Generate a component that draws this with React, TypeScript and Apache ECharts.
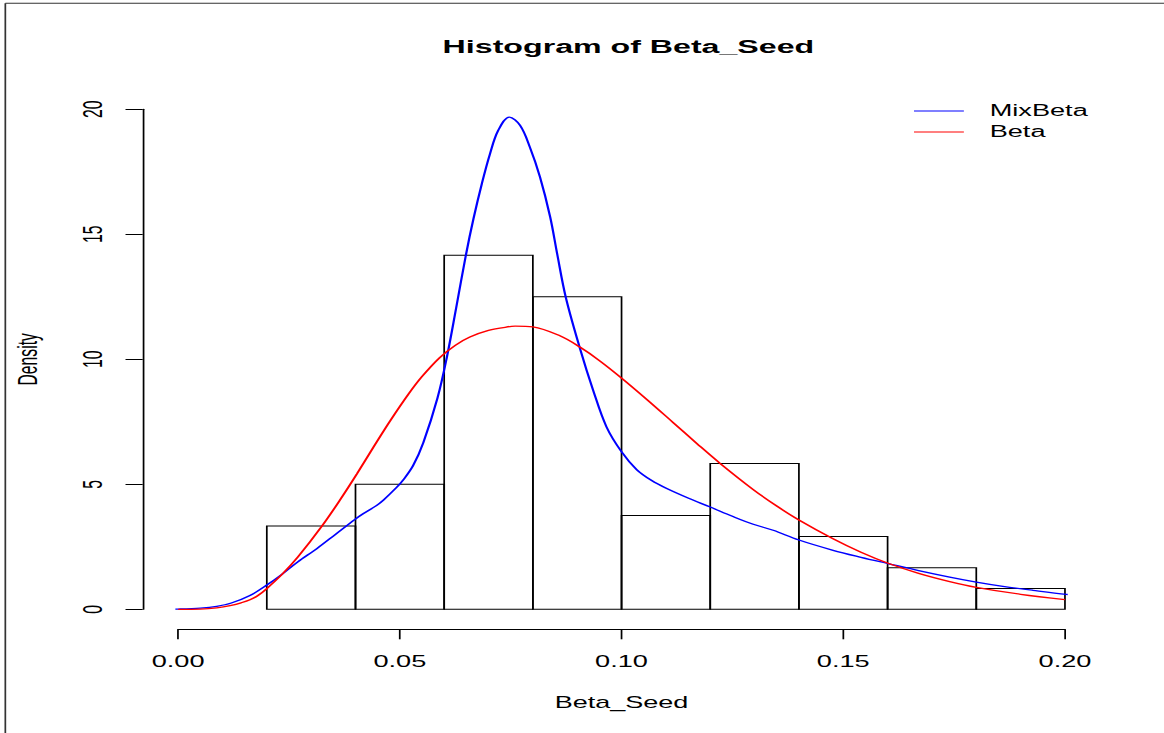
import React, { useEffect, useRef } from "react";
import * as echarts from "echarts";

// Histogram bins (Beta_Seed) and densities
const binStarts = [0.02, 0.04, 0.06, 0.08, 0.1, 0.12, 0.14, 0.16, 0.18];
const binEnds = [0.04, 0.06, 0.08, 0.1, 0.12, 0.14, 0.16, 0.18, 0.2];
const densities = [3.333, 5.0, 14.167, 12.5, 3.75, 5.833, 2.917, 1.667, 0.833];

// MixBeta density curve (blue)
const mixBetaX = [
  -0.0034, 0.0, 0.005, 0.0087, 0.012, 0.0162, 0.02, 0.0234, 0.027, 0.0313, 0.0355, 0.0399,
  0.0418, 0.0448, 0.0463, 0.0493, 0.0508, 0.053, 0.0553, 0.0585, 0.0606, 0.0627,
  0.0649, 0.0666, 0.0685, 0.0703, 0.0722, 0.0747, 0.0771, 0.0793, 0.0816, 0.0839, 0.0855,
  0.0874, 0.0906, 0.0936, 0.0966, 0.1, 0.1034, 0.1068, 0.1102, 0.115, 0.12, 0.125, 0.1297,
  0.1342, 0.14, 0.1477, 0.154, 0.1601, 0.167, 0.174, 0.18, 0.186, 0.1928, 0.2003, 0.208,
];
const mixBetaY = [
  0.0, 0.01, 0.05, 0.12, 0.25, 0.55, 0.97, 1.4, 1.9, 2.43, 3.0, 3.6,
  3.83, 4.16, 4.37, 4.88, 5.18, 5.75, 6.67, 8.46, 10.08, 12.05,
  14.17, 15.62, 17.03, 18.2, 19.16, 19.69, 19.36, 18.5, 17.3, 15.7, 14.2,
  12.5, 10.45, 8.76, 7.3, 6.3, 5.59, 5.15, 4.83, 4.45, 4.09, 3.72, 3.4,
  3.16, 2.77, 2.36, 2.08, 1.83, 1.55, 1.29, 1.09, 0.92, 0.76, 0.6, 0.48,
];

// Beta density curve (red)
const betaX = [
  0.0, 0.005, 0.0087, 0.012, 0.0142, 0.0162, 0.018, 0.02, 0.0234, 0.027, 0.0324, 0.0365,
  0.0403, 0.044, 0.0478, 0.052, 0.055, 0.059, 0.0625, 0.0658, 0.07, 0.0752, 0.076, 0.08,
  0.0861, 0.0906, 0.095, 0.1, 0.1058, 0.1117, 0.117, 0.1222, 0.1297, 0.135, 0.14, 0.1477,
  0.154, 0.1601, 0.167, 0.174, 0.18, 0.19, 0.2,
];
const betaY = [
  0.0, 0.01, 0.06, 0.16, 0.26, 0.38, 0.55, 0.83, 1.39, 2.09, 3.32, 4.37,
  5.41, 6.47, 7.53, 8.62, 9.31, 10.07, 10.56, 10.89, 11.16, 11.32, 11.33, 11.3,
  10.94, 10.49, 9.95, 9.25, 8.38, 7.46, 6.63, 5.84, 4.79, 4.13, 3.57, 2.82,
  2.28, 1.84, 1.44, 1.11, 0.88, 0.6, 0.39,
];

const seriesNames = ["MixBeta", "Beta"];
const seriesColors = ["#0000ff", "#ff0000"];
const xTicks = { min: 0, max: 0.2, interval: 0.05 };
const yTicks = { min: 0, max: 20, interval: 5 };

const FULL_W = 1164;
const FULL_H = 733;
const BASE_W = 677;
const STRETCH = FULL_W / BASE_W;
const FONT = "'Liberation Sans', Arial, Helvetica, sans-serif";

export default function App() {
  const ref = useRef<HTMLDivElement>(null);

  useEffect(() => {
    if (!ref.current) return;
    const chart = echarts.init(ref.current, undefined, {
      renderer: "svg",
      width: BASE_W,
      height: FULL_H,
    });

    const barData = binStarts.map((s, i) => [s, binEnds[i], densities[i]]);
    const mixData = mixBetaX.map((x, i) => [x, mixBetaY[i]]);
    const betaData = betaX.map((x, i) => [x, betaY[i]]);

    chart.setOption({
      animation: false,
      backgroundColor: "#ffffff",
      textStyle: { fontFamily: FONT },
      title: {
        text: "Histogram of Beta_Seed",
        left: 365.5,
        textAlign: "center",
        top: 37.5,
        padding: 0,
        textStyle: {
          fontFamily: FONT,
          fontSize: 18.7,
          fontWeight: "bold",
          color: "#000",
        },
      },
      legend: {
        data: seriesNames,
        orient: "vertical",
        left: 531,
        top: 103,
        itemWidth: 29,
        itemHeight: 14,
        itemGap: 5,
        padding: 0,
        itemStyle: { opacity: 0 },
        lineStyle: { width: 1.2 },
        textStyle: {
          fontFamily: FONT,
          fontSize: 15.8,
          color: "#000",
          padding: [0, 0, 0, 10],
        },
      },
      grid: {
        left: 103.5,
        right: 57.6,
        top: 109.3,
        bottom: 123.7,
        containLabel: false,
      },
      xAxis: {
        type: "value",
        min: xTicks.min,
        max: xTicks.max,
        interval: xTicks.interval,
        offset: 20,
        name: "Beta_Seed",
        nameLocation: "middle",
        nameGap: 65.5,
        nameTextStyle: { fontFamily: FONT, fontSize: 15.7, color: "#000" },
        axisLine: { show: true, onZero: false, lineStyle: { color: "#000", width: 1 } },
        axisTick: { show: true, length: 10, lineStyle: { color: "#000", width: 1 } },
        axisLabel: {
          show: true,
          margin: 24,
          fontFamily: FONT,
          fontSize: 15.8,
          color: "#000",
          showMinLabel: true,
          showMaxLabel: true,
          formatter: (v: number) => v.toFixed(2),
        },
        splitLine: { show: false },
      },
      yAxis: {
        type: "value",
        min: yTicks.min,
        max: yTicks.max,
        interval: yTicks.interval,
        offset: 20.6,
        name: "Density",
        nameLocation: "middle",
        nameGap: 59,
        nameTextStyle: { fontFamily: FONT, fontSize: 15.7, color: "#000" },
        axisLine: { show: true, onZero: false, lineStyle: { color: "#000", width: 1 } },
        axisTick: { show: true, length: 10, lineStyle: { color: "#000", width: 1 } },
        axisLabel: {
          show: true,
          rotate: 90,
          margin: 21,
          fontFamily: FONT,
          fontSize: 15.8,
          color: "#000",
          showMinLabel: true,
          showMaxLabel: true,
          formatter: (v: number) => String(Math.round(v)),
        },
        splitLine: { show: false },
      },
      graphic: [
        {
          type: "line",
          silent: true,
          shape: { x1: 3.1, y1: 3.3, x2: BASE_W, y2: 3.3 },
          style: { stroke: "#333", lineWidth: 1 },
        },
        {
          type: "line",
          silent: true,
          shape: { x1: 3.1, y1: 3.3, x2: 3.1, y2: FULL_H },
          style: { stroke: "#333", lineWidth: 1 },
        },
      ],
      series: [
        {
          type: "custom",
          name: "Histogram",
          data: barData,
          encode: { x: [0, 1], y: 2 },
          renderItem: (params: any, api: any) => {
            const p0 = api.coord([api.value(0), 0]);
            const p1 = api.coord([api.value(1), api.value(2)]);
            return {
              type: "rect",
              shape: {
                x: p0[0],
                y: p1[1],
                width: p1[0] - p0[0],
                height: p0[1] - p1[1],
              },
              style: { fill: "none", stroke: "#000", lineWidth: 1 },
            };
          },
          z: 1,
        },
        {
          type: "line",
          name: seriesNames[0],
          data: mixData,
          showSymbol: false,
          symbol: "none",
          smooth: 0.35,
          clip: false,
          lineStyle: { color: seriesColors[0], width: 1.3 },
          itemStyle: { color: seriesColors[0] },
          z: 3,
        },
        {
          type: "line",
          name: seriesNames[1],
          data: betaData,
          showSymbol: false,
          symbol: "none",
          smooth: 0.35,
          clip: false,
          lineStyle: { color: seriesColors[1], width: 1.3 },
          itemStyle: { color: seriesColors[1] },
          z: 4,
        },
      ],
    });

    return () => {
      chart.dispose();
    };
  }, []);

  return (
    <div
      style={{
        position: "fixed",
        left: 0,
        top: 0,
        width: FULL_W,
        height: FULL_H,
        overflow: "hidden",
        background: "#fff",
      }}
    >
      <div
        ref={ref}
        style={{
          width: BASE_W,
          height: FULL_H,
          transform: `scaleX(${STRETCH})`,
          transformOrigin: "0 0",
        }}
      />
    </div>
  );
}
